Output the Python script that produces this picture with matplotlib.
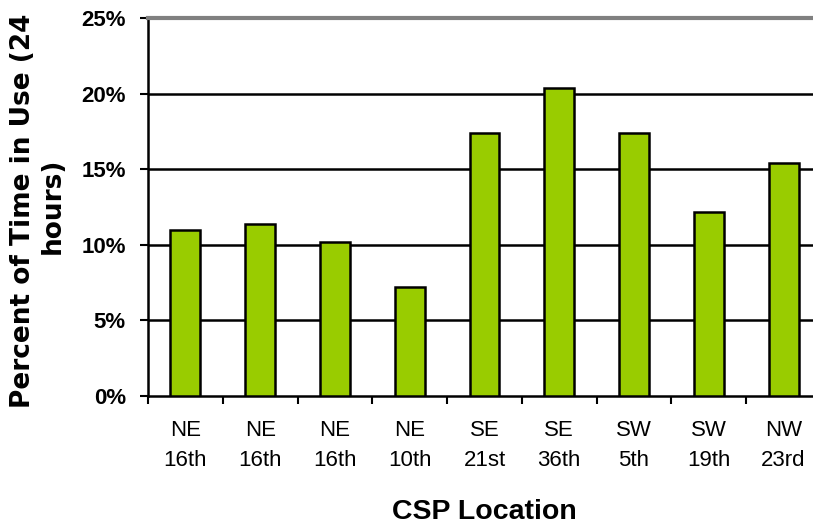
import matplotlib
matplotlib.use("Agg")
import matplotlib.pyplot as plt
from matplotlib.ticker import FuncFormatter, FixedLocator
import numpy as np

# CSP locations (district / site) and percent of 24 hours each was in use
regions = ["NE", "NE", "NE", "NE", "SE", "SE", "SW", "SW", "NW"]
sites = ["16th", "16th", "16th", "10th", "21st", "36th", "5th", "19th", "23rd"]
percent_in_use = [11.0, 11.4, 10.2, 7.2, 17.4, 20.4, 17.4, 12.2, 15.4]
y_ticks = [0, 5, 10, 15, 20, 25]

bar_color = "#99CC00"

fig = plt.figure(figsize=(8.13, 5.27), dpi=100)
ax = fig.add_axes([148 / 813, 131 / 527, 673 / 813, 378 / 527])

x = np.arange(len(percent_in_use))
ax.bar(x, percent_in_use, width=0.4, color=bar_color, edgecolor="black",
       linewidth=1.8, zorder=3)

ax.set_xlim(-0.5, len(percent_in_use) - 0.5)
ax.set_ylim(0, 25)

# horizontal gridlines
for v in y_ticks[1:-1]:
    ax.axhline(v, color="black", linewidth=1.8, zorder=1)

ax.spines["right"].set_visible(False)
ax.spines["top"].set_color("#808080")
ax.spines["top"].set_linewidth(3)
ax.spines["left"].set_linewidth(1.8)
ax.spines["bottom"].set_linewidth(1.8)

ax.set_yticks(y_ticks)
ax.yaxis.set_major_formatter(FuncFormatter(lambda v, p: f"{int(v)}%"))
ax.tick_params(axis="y", direction="out", length=6, width=1.5, pad=10,
               labelsize=16)
for lbl in ax.get_yticklabels():
    lbl.set_fontweight("bold")
    lbl.set_fontfamily("Liberation Sans")

ax.set_xticks(x)
ax.set_xticklabels([f"{r}\n{s}" for r, s in zip(regions, sites)],
                   fontfamily="Liberation Sans", fontsize=16, linespacing=1.6)
ax.tick_params(axis="x", which="major", length=0, pad=17)
ax.xaxis.set_minor_locator(FixedLocator(np.arange(-0.5, len(x), 1.0)))
ax.tick_params(axis="x", which="minor", direction="out", length=6, width=1.5)

fig.text(484 / 813, 1 - 512 / 527, "CSP Location", ha="center", va="center",
         fontsize=20.5, fontweight="bold", fontfamily="Liberation Sans")

fig.text(23 / 813, 1 - 211 / 527, "Percent of Time in Use (24",
         rotation=90, ha="center", va="center", fontsize=19,
         fontweight="heavy", fontfamily="DejaVu Sans")
fig.text(53 / 813, 1 - 206 / 527, "hours)",
         rotation=90, ha="center", va="center", fontsize=19,
         fontweight="heavy", fontfamily="DejaVu Sans")

fig.savefig("out.png", dpi=100)
